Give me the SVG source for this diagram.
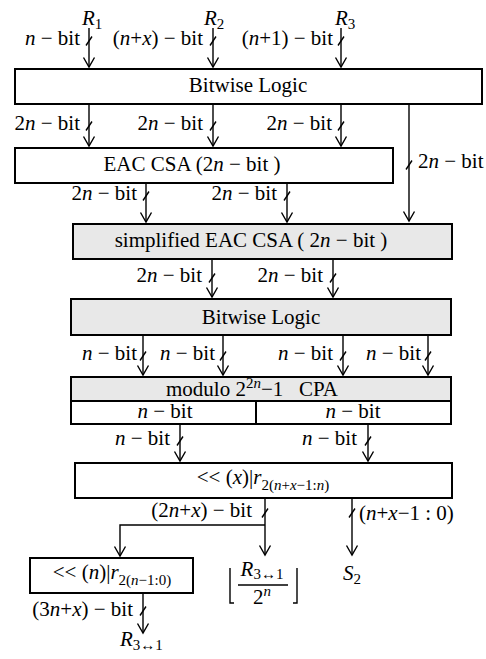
<svg xmlns="http://www.w3.org/2000/svg" xmlns:xlink="http://www.w3.org/1999/xlink" width="486" height="659" viewBox="0 0 486 659" font-family="'Liberation Serif', 'DejaVu Serif', serif">
  <style>
    .t { font-family: "Liberation Serif", "DejaVu Serif", serif; font-size: 21px; fill: #000; }
    .m { text-anchor: middle; }
    .e { text-anchor: end; }
    .i { font-style: italic; }
    .s { font-size: 15px; }
    .box { fill: #fff; stroke: #000; stroke-width: 2; }
    .gray { fill: #e8e8e8; }
    .wire { fill: none; stroke: #000; stroke-width: 1.4; marker-end: url(#arr); }
    .plain { fill: none; stroke: #000; stroke-width: 1.4; }
  </style>
  <defs>
    <marker id="arr" markerUnits="userSpaceOnUse" markerWidth="14" markerHeight="14" refX="11" refY="7" orient="auto" viewBox="0 0 14 14">
      <path d="M1.5,1.5 L11,7 L1.5,12.5" fill="none" stroke="#000" stroke-width="1.4"/>
    </marker>
    <path id="tk" d="M-3,4.5 L3,-4.5" fill="none" stroke="#000" stroke-width="1.4"/>
  </defs>

  <!-- inputs -->
  <g id="inputs">
    <text class="t" x="82" y="25"><tspan class="i">R</tspan><tspan class="s" dy="4">1</tspan></text>
    <text class="t" x="204" y="25"><tspan class="i">R</tspan><tspan class="s" dy="4">2</tspan></text>
    <text class="t" x="335" y="25"><tspan class="i">R</tspan><tspan class="s" dy="4">3</tspan></text>
  </g>

  <!-- blocks -->
  <g id="bitwise1">
    <rect class="box" x="15" y="69" width="467" height="35"/>
    <text class="t m" x="248" y="92">Bitwise Logic</text>
  </g>
  <g id="eac-csa">
    <rect class="box" x="15" y="148" width="378" height="35"/>
    <text class="t m" x="192" y="171">EAC CSA (2<tspan class="i">n</tspan> − bit )</text>
  </g>
  <g id="simplified-eac-csa">
    <rect class="box gray" x="73" y="224" width="379" height="35"/>
    <text class="t m" x="251" y="247">simplified EAC CSA ( 2<tspan class="i">n</tspan> − bit )</text>
  </g>
  <g id="bitwise2">
    <rect class="box gray" x="71" y="299" width="380" height="36"/>
    <text class="t m" x="261" y="324">Bitwise Logic</text>
  </g>
  <g id="cpa">
    <rect class="box gray" x="71" y="377" width="380" height="24"/>
    <text class="t m" x="252" y="396" xml:space="preserve">modulo 2<tspan class="s" dy="-8">2<tspan class="i">n</tspan></tspan><tspan dy="8">−1   CPA</tspan></text>
    <rect class="box" x="71" y="401" width="185" height="23"/>
    <rect class="box" x="256" y="401" width="195" height="23"/>
    <text class="t m" x="165" y="418"><tspan class="i">n</tspan> − bit</text>
    <text class="t m" x="353" y="418"><tspan class="i">n</tspan> − bit</text>
  </g>
  <g id="shift-x">
    <rect class="box" x="75" y="463" width="377" height="35"/>
    <text class="t m" x="263" y="484">&lt;&lt; (<tspan class="i">x</tspan>)|<tspan class="i">r</tspan><tspan class="s" dy="6">2(<tspan class="i">n</tspan>+<tspan class="i">x</tspan>−1:<tspan class="i">n</tspan>)</tspan></text>
  </g>
  <g id="shift-n">
    <rect class="box" x="30" y="558" width="163" height="35"/>
    <text class="t m" x="112" y="579">&lt;&lt; (<tspan class="i">n</tspan>)|<tspan class="i">r</tspan><tspan class="s" dy="6">2(<tspan class="i">n</tspan>−1:0)</tspan></text>
  </g>

  <!-- outputs -->
  <g id="out-r31">
    <text class="t" x="120" y="646"><tspan class="i">R</tspan><tspan class="s" dy="4">3↔1</tspan></text>
  </g>
  <g id="out-floor">
    <text class="t m" x="262" y="576"><tspan class="i">R</tspan><tspan class="s" dy="3">3↔1</tspan></text>
    <line class="plain" x1="238" y1="585" x2="288" y2="585"/>
    <text class="t m" x="262" y="604">2<tspan class="s i" dy="-8">n</tspan></text>
    <path class="plain" d="M230,568 V603 H234 M297,568 V603 H293"/>
  </g>
  <g id="out-s2">
    <text class="t" x="343" y="580"><tspan class="i">S</tspan><tspan class="s" dy="4">2</tspan></text>
  </g>

  <!-- connectors -->
  <g id="connectors">
    <path class="wire" d="M89,28 V67"/>
    <path class="wire" d="M213,28 V67"/>
    <path class="wire" d="M341,28 V67"/>

    <path class="wire" d="M89,104 V146"/>
    <path class="wire" d="M213,104 V146"/>
    <path class="wire" d="M341,104 V146"/>
    <path class="wire" d="M409,104 V221"/>

    <path class="wire" d="M146,183 V222"/>
    <path class="wire" d="M287,183 V222"/>

    <path class="wire" d="M212,259 V297"/>
    <path class="wire" d="M333,259 V297"/>

    <path class="wire" d="M143,335 V375"/>
    <path class="wire" d="M223,335 V375"/>
    <path class="wire" d="M343,335 V375"/>
    <path class="wire" d="M428,335 V375"/>

    <path class="wire" d="M180,424 V461"/>
    <path class="wire" d="M368,424 V461"/>

    <path class="wire" d="M265,498 V555"/>
    <path class="wire" d="M352,498 V555"/>
    <path class="wire" d="M265,525 H120 V556"/>

    <path class="wire" d="M143,593 V633"/>

    <!-- bus width ticks -->
    <use xlink:href="#tk" x="89" y="41"/>
    <use xlink:href="#tk" x="213" y="41"/>
    <use xlink:href="#tk" x="341" y="41"/>
    <use xlink:href="#tk" x="89" y="126"/>
    <use xlink:href="#tk" x="213" y="126"/>
    <use xlink:href="#tk" x="341" y="126"/>
    <use xlink:href="#tk" x="409" y="165"/>
    <use xlink:href="#tk" x="146" y="196"/>
    <use xlink:href="#tk" x="287" y="196"/>
    <use xlink:href="#tk" x="212" y="278"/>
    <use xlink:href="#tk" x="333" y="278"/>
    <use xlink:href="#tk" x="143" y="356"/>
    <use xlink:href="#tk" x="223" y="356"/>
    <use xlink:href="#tk" x="343" y="356"/>
    <use xlink:href="#tk" x="428" y="356"/>
    <use xlink:href="#tk" x="180" y="441"/>
    <use xlink:href="#tk" x="368" y="441"/>
    <use xlink:href="#tk" x="265" y="513"/>
    <use xlink:href="#tk" x="352" y="513"/>
    <use xlink:href="#tk" x="143" y="611"/>

    <!-- bus width labels -->
    <text class="t e" x="80" y="45"><tspan class="i">n</tspan> − bit</text>
    <text class="t e" x="203" y="45">(<tspan class="i">n</tspan>+<tspan class="i">x</tspan>) − bit</text>
    <text class="t e" x="333" y="45">(<tspan class="i">n</tspan>+1) − bit</text>

    <text class="t e" x="80" y="130">2<tspan class="i">n</tspan> − bit</text>
    <text class="t e" x="203" y="130">2<tspan class="i">n</tspan> − bit</text>
    <text class="t e" x="332" y="130">2<tspan class="i">n</tspan> − bit</text>
    <text class="t" x="418" y="168">2<tspan class="i">n</tspan> − bit</text>

    <text class="t e" x="137" y="200">2<tspan class="i">n</tspan> − bit</text>
    <text class="t e" x="277" y="200">2<tspan class="i">n</tspan> − bit</text>

    <text class="t e" x="202" y="282">2<tspan class="i">n</tspan> − bit</text>
    <text class="t e" x="323" y="282">2<tspan class="i">n</tspan> − bit</text>

    <text class="t e" x="137" y="360"><tspan class="i">n</tspan> − bit</text>
    <text class="t e" x="215" y="360"><tspan class="i">n</tspan> − bit</text>
    <text class="t e" x="333" y="360"><tspan class="i">n</tspan> − bit</text>
    <text class="t e" x="421" y="360"><tspan class="i">n</tspan> − bit</text>

    <text class="t e" x="170" y="445"><tspan class="i">n</tspan> − bit</text>
    <text class="t e" x="357" y="445"><tspan class="i">n</tspan> − bit</text>

    <text class="t e" x="252" y="517">(2<tspan class="i">n</tspan>+<tspan class="i">x</tspan>) − bit</text>
    <text class="t" x="359" y="520">(<tspan class="i">n</tspan>+<tspan class="i">x</tspan>−1 : 0)</text>

    <text class="t e" x="133" y="616">(3<tspan class="i">n</tspan>+<tspan class="i">x</tspan>) − bit</text>
  </g>
</svg>
